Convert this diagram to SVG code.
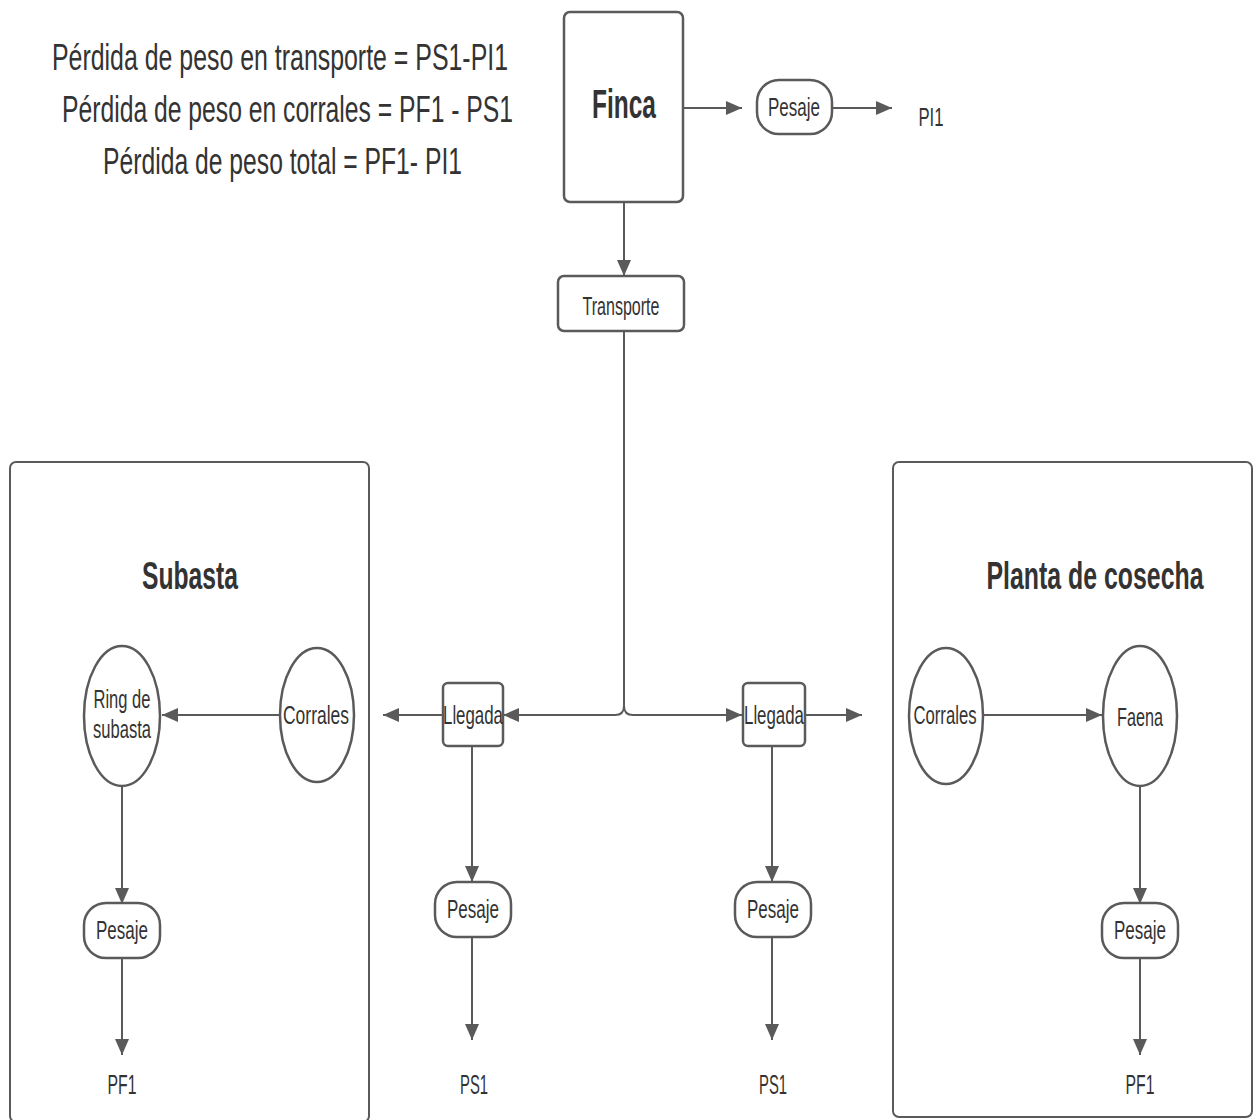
<svg xmlns="http://www.w3.org/2000/svg" width="1254" height="1120" viewBox="0 0 1254 1120">
<style>
.box{fill:#fff;stroke:#5a5a5a;stroke-width:2.5}
.cont{fill:#fff;stroke:#5a5a5a;stroke-width:2}
.t{font-family:"Liberation Sans",Arial,sans-serif;fill:#333;text-anchor:middle;font-size:25px}
.v{font-family:"Liberation Sans",Arial,sans-serif;fill:#333;text-anchor:middle;font-size:28px}
.tb{font-family:"Liberation Sans",Arial,sans-serif;fill:#333;text-anchor:middle;font-weight:bold}
.f{font-family:"Liberation Sans",Arial,sans-serif;fill:#333;font-size:37px}
.c{fill:none;stroke:#5a5a5a;stroke-width:2}
</style>
<defs>
<marker id="ah" markerUnits="userSpaceOnUse" markerWidth="18" markerHeight="14" refX="16" refY="7" orient="auto">
<path d="M0,0 L16,7 L0,14 Z" fill="#5a5a5a"/>
</marker>
</defs>
<g id="formulas">
<text class="f" x="52" y="70" textLength="456" lengthAdjust="spacingAndGlyphs">Pérdida de peso en transporte = PS1-PI1</text>
<text class="f" x="62" y="122" textLength="451" lengthAdjust="spacingAndGlyphs">Pérdida de peso en corrales = PF1 - PS1</text>
<text class="f" x="103" y="174" textLength="359" lengthAdjust="spacingAndGlyphs">Pérdida de peso total = PF1- PI1</text>
</g>
<g id="subasta">
<rect class="cont" x="10" y="462" width="359" height="660" rx="6"/>
<text class="tb" x="190" y="589" font-size="39" textLength="96" lengthAdjust="spacingAndGlyphs">Subasta</text>
</g>
<g id="planta">
<rect class="cont" x="893" y="462" width="359" height="655" rx="6"/>
<text class="tb" x="1095" y="589" font-size="39" textLength="217" lengthAdjust="spacingAndGlyphs">Planta de cosecha</text>
</g>
<g id="connectors">
<path class="c" d="M683,108 H742" marker-end="url(#ah)"/>
<path class="c" d="M832,108 H892" marker-end="url(#ah)"/>
<path class="c" d="M624,202 V276" marker-end="url(#ah)"/>
<path class="c" d="M624,331 V706 Q624,715 615,715 H503" marker-end="url(#ah)"/>
<path class="c" d="M624,706 Q624,715 633,715 H742" marker-end="url(#ah)"/>
<path class="c" d="M443,715 H383" marker-end="url(#ah)"/>
<path class="c" d="M805,715 H862" marker-end="url(#ah)"/>
<path class="c" d="M472,746 V882" marker-end="url(#ah)"/>
<path class="c" d="M472,937 V1040" marker-end="url(#ah)"/>
<path class="c" d="M772,746 V882" marker-end="url(#ah)"/>
<path class="c" d="M772,937 V1040" marker-end="url(#ah)"/>
<path class="c" d="M280,715 H162" marker-end="url(#ah)"/>
<path class="c" d="M122,786 V904" marker-end="url(#ah)"/>
<path class="c" d="M122,958 V1055" marker-end="url(#ah)"/>
<path class="c" d="M983,715 H1102" marker-end="url(#ah)"/>
<path class="c" d="M1140,786 V904" marker-end="url(#ah)"/>
<path class="c" d="M1140,958 V1055" marker-end="url(#ah)"/>
</g>
<g id="finca">
<rect class="box" x="564" y="12" width="119" height="190" rx="6"/>
<text class="tb" x="624" y="118" font-size="40" textLength="64" lengthAdjust="spacingAndGlyphs">Finca</text>
</g>
<g id="pesaje-finca">
<rect class="box" x="757" y="80" width="75" height="54" rx="22"/>
<text class="t" x="794" y="116" textLength="52" lengthAdjust="spacingAndGlyphs">Pesaje</text>
</g>
<g id="pi1"><text class="t" x="931" y="126" textLength="25" lengthAdjust="spacingAndGlyphs">PI1</text></g>
<g id="transporte">
<rect class="box" x="558" y="276" width="126" height="55" rx="6"/>
<text class="t" x="621" y="315" textLength="77" lengthAdjust="spacingAndGlyphs">Transporte</text>
</g>
<g id="llegada-izq">
<rect class="box" x="443" y="683" width="60" height="63" rx="5"/>
<text class="t" x="473" y="724" textLength="60" lengthAdjust="spacingAndGlyphs">Llegada</text>
</g>
<g id="llegada-der">
<rect class="box" x="743" y="683" width="62" height="63" rx="5"/>
<text class="t" x="774" y="724" textLength="60" lengthAdjust="spacingAndGlyphs">Llegada</text>
</g>
<g id="pesaje-izq">
<rect class="box" x="435" y="882" width="76" height="55" rx="22"/>
<text class="t" x="473" y="918" textLength="52" lengthAdjust="spacingAndGlyphs">Pesaje</text>
</g>
<g id="pesaje-der">
<rect class="box" x="735" y="882" width="76" height="55" rx="22"/>
<text class="t" x="773" y="918" textLength="52" lengthAdjust="spacingAndGlyphs">Pesaje</text>
</g>
<g id="ps1-izq"><text class="v" x="474" y="1094" textLength="28" lengthAdjust="spacingAndGlyphs">PS1</text></g>
<g id="ps1-der"><text class="v" x="773" y="1094" textLength="28" lengthAdjust="spacingAndGlyphs">PS1</text></g>
<g id="ring">
<ellipse class="box" cx="122" cy="716" rx="38" ry="70"/>
<text class="t" x="122" y="708" textLength="57" lengthAdjust="spacingAndGlyphs">Ring de</text>
<text class="t" x="122" y="738" textLength="58" lengthAdjust="spacingAndGlyphs">subasta</text>
</g>
<g id="corrales-sub">
<ellipse class="box" cx="317" cy="715" rx="37" ry="67"/>
<text class="t" x="316" y="724" textLength="66" lengthAdjust="spacingAndGlyphs">Corrales</text>
</g>
<g id="pesaje-sub">
<rect class="box" x="84" y="903" width="76" height="55" rx="22"/>
<text class="t" x="122" y="939" textLength="52" lengthAdjust="spacingAndGlyphs">Pesaje</text>
</g>
<g id="pf1-sub"><text class="v" x="122" y="1094" textLength="29" lengthAdjust="spacingAndGlyphs">PF1</text></g>
<g id="corrales-planta">
<ellipse class="box" cx="946" cy="716" rx="37" ry="68"/>
<text class="t" x="945" y="724" textLength="63" lengthAdjust="spacingAndGlyphs">Corrales</text>
</g>
<g id="faena">
<ellipse class="box" cx="1140" cy="716" rx="37" ry="70"/>
<text class="t" x="1140" y="726" textLength="46" lengthAdjust="spacingAndGlyphs">Faena</text>
</g>
<g id="pesaje-planta">
<rect class="box" x="1102" y="903" width="76" height="55" rx="22"/>
<text class="t" x="1140" y="939" textLength="52" lengthAdjust="spacingAndGlyphs">Pesaje</text>
</g>
<g id="pf1-planta"><text class="v" x="1140" y="1094" textLength="29" lengthAdjust="spacingAndGlyphs">PF1</text></g>
</svg>
